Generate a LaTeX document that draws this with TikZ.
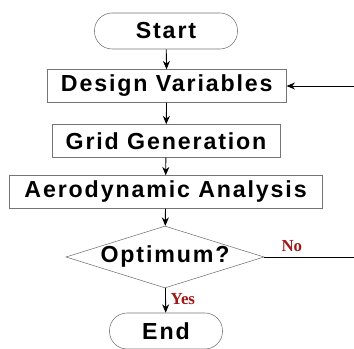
\documentclass[tikz,border=0pt]{standalone}
\usepackage{fontspec}
\setmainfont{Liberation Sans}
\newfontfamily\labelfont{Liberation Serif}
\usetikzlibrary{arrows.meta,positioning,shapes.geometric}
\definecolor{frame}{HTML}{757575}
\definecolor{answer}{HTML}{A01818}

\begin{document}
\begin{tikzpicture}[
  stepbox/.style={draw=frame,fill=white,minimum width=#1,minimum height=0.82cm,inner sep=0pt,font=\fontsize{16.5}{18}\selectfont\bfseries\addfontfeature{LetterSpace=8}},
  terminal/.style={draw=frame,rounded corners=0.44cm,minimum width=#1,minimum height=0.9cm,inner sep=0pt,font=\fontsize{16.5}{18}\selectfont\bfseries\addfontfeature{LetterSpace=8}},
  decision/.style={draw=frame,diamond,aspect=3.2,minimum width=4.875cm,minimum height=1.525cm,inner sep=0pt,font=\fontsize{16.5}{18}\selectfont\bfseries\addfontfeature{LetterSpace=8}},
  answer/.style={font=\labelfont\bfseries\fontsize{12}{13}\selectfont,text=answer},
  flow/.style={-{Stealth[length=6pt,width=5pt]},semithick,black},
]
  \useasboundingbox (0,0) rectangle (8.85,8.725);

  \node[terminal=3.575cm] (start) at (4.15,7.95) {Start};
  \node[stepbox=5.975cm] (design) at (4.17,6.575) {Design Variables};
  \node[stepbox=5.7cm] (grid) at (4.15,5.2) {Grid Generation};
  \node[stepbox=7.825cm] (aero) at (4.14,3.925) {Aerodynamic Analysis};
  \node[decision] (opt) at (4.125,2.3) {Optimum?};
  \node[terminal=2.825cm] (end) at (4.15,0.45) {End};
  \coordinate (back) at (8.9,2.3);

  \draw[flow] (start) -- (design);
  \draw[flow] (design) -- (grid);
  \draw[flow] (grid) -- (aero);
  \draw[flow] (aero) -- (opt);
  \draw[flow] (opt) -- node[answer,right,pos=0.45] {Yes} (end);
  % loop back when not optimal
  \draw[flow] (opt.east) -- node[answer,above,pos=0.3] {No} (back) |- (design.east);
\end{tikzpicture}
\end{document}
